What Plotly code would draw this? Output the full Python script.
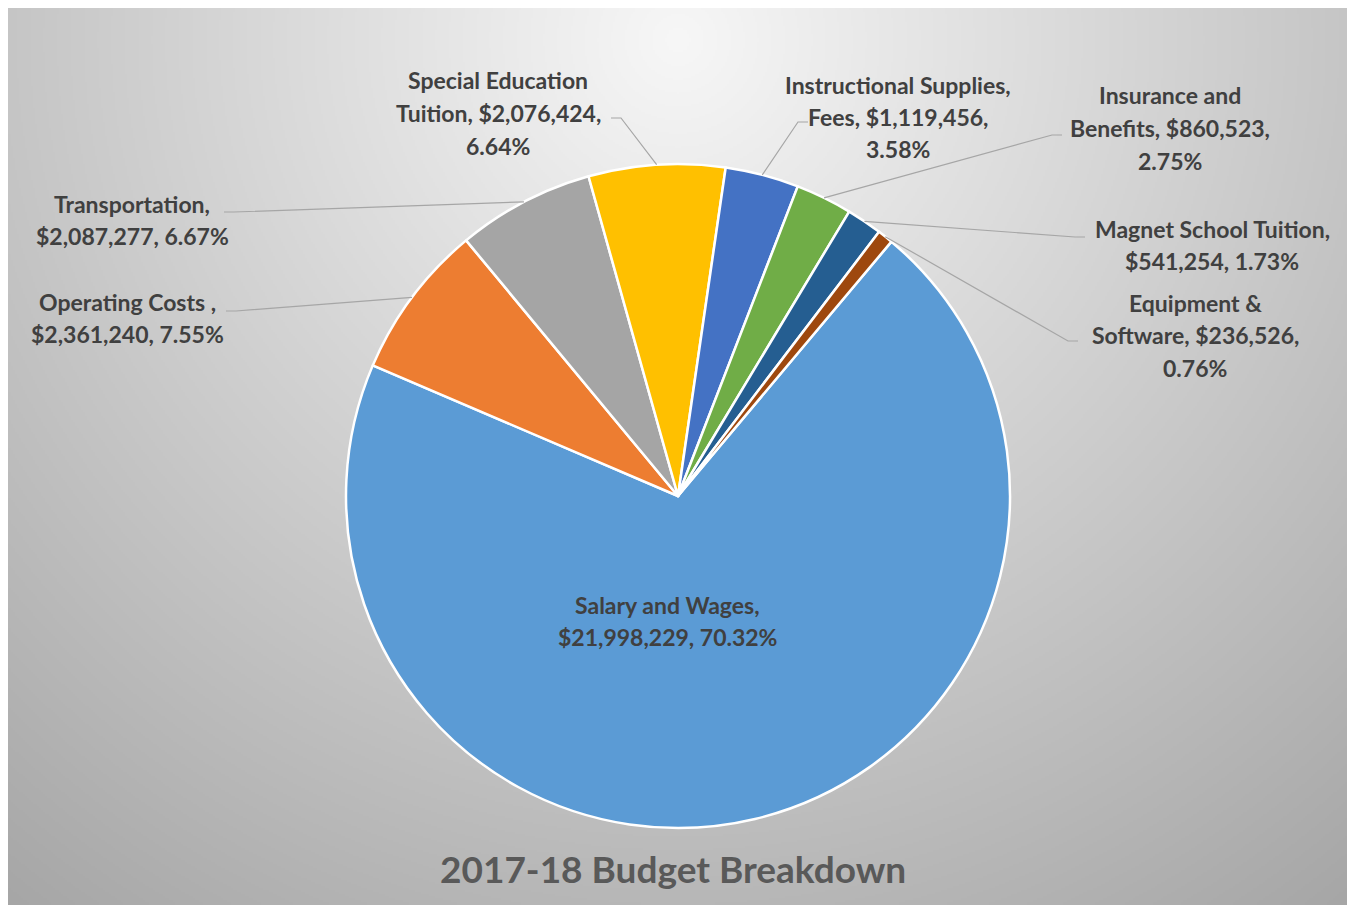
import base64
import math
import struct
import zlib

import numpy as np
import plotly.graph_objects as go

# ---------------- data ----------------
categories = [
    "Salary and Wages",
    "Operating Costs ",
    "Transportation",
    "Special Education Tuition",
    "Instructional Supplies, Fees",
    "Insurance and Benefits",
    "Magnet School Tuition",
    "Equipment & Software",
]
values = [21998229, 2361240, 2087277, 2076424, 1119456, 860523, 541254, 236526]
colors = ["#5B9BD5", "#ED7D31", "#A5A5A5", "#FFC000", "#4472C4", "#70AD47", "#255E91", "#9E480E"]
title_text = "2017-18 Budget Breakdown"

# ---------------- layout constants (pixels, screen coordinates) ----------------
W, H = 1355, 907
OFFX, OFFY = 8, 8                  # page offset of the figure inside the window
CX, CY, R = 678, 496, 332          # pie centre / radius
ROTATION = 40                      # first slice starts 40 deg clockwise from 12 o'clock
LABEL_FONT = dict(family="Lato, 'Open Sans', sans-serif", size=23, color="#404040", weight="bold")
LINE_GAP = 32.5
LEADER_COLOR = "#a6a6a6"

# label layout: (centre x, centre y, wrap style, leader start (x, y, short horizontal dx))
label_layout = [
    (667, 621, "A", None),
    (127, 318, "A", (226, 311, 10)),
    (132, 220, "A", (224, 212, 10)),
    (498, 113, "B", (611, 118, 10)),
    (898, 117, "B", (808, 122, -10)),
    (1170, 128, "B", (1062, 135, -10)),
    (1212, 245, "A", (1085, 237, -10)),
    (1195, 335, "B", (1078, 341, -10)),
]


def px(x):
    return (x - OFFX) / W


def py(y):
    return 1 - (y - OFFY) / H


total = sum(values)


def label_lines(name, val, style):
    pct = f"{val / total * 100:.2f}%"
    money = f"${val:,}"
    if style == "A":
        return [f"{name},", f"{money}, {pct}"]
    words = name.split(" ")
    first = " ".join(words[:2])
    rest = " ".join(words[2:])
    return [first, f"{rest}, {money},", pct]


# ---------------- background gradient image ----------------
def png_gray(arr):
    h, w = arr.shape
    raw = b"".join(b"\x00" + arr[i].tobytes() for i in range(h))

    def chunk(t, d):
        c = struct.pack(">I", len(d)) + t + d
        return c + struct.pack(">I", zlib.crc32(t + d) & 0xFFFFFFFF)

    ihdr = struct.pack(">IIBBBBB", w, h, 8, 0, 0, 0, 0)
    return (b"\x89PNG\r\n\x1a\n" + chunk(b"IHDR", ihdr)
            + chunk(b"IDAT", zlib.compress(raw, 9)) + chunk(b"IEND", b""))


AX0, AY0, AX1, AY1 = 8, 5, 1348, 905
step = 2
xs = np.arange(AX0, AX1, step) + step / 2
ys = np.arange(AY0, AY1, step) + step / 2
XX, YY = np.meshgrid(xs, ys)
d = np.sqrt((XX - 678) ** 2 + (YY - 40) ** 2)
g = np.clip(247 - 0.074 * d, 165, 250).astype(np.uint8)
bg_src = "data:image/png;base64," + base64.b64encode(png_gray(g)).decode()

# ---------------- figure ----------------
fig = go.Figure()
fig.add_trace(go.Pie(
    labels=categories,
    values=values,
    sort=False,
    direction="clockwise",
    rotation=ROTATION,
    marker=dict(colors=colors, line=dict(color="white", width=2.5)),
    textinfo="none",
    hoverinfo="label+value+percent",
    showlegend=False,
    domain=dict(x=[px(CX - R), px(CX + R)], y=[py(CY + R), py(CY - R)]),
))

annotations = []
shapes = []
cum = 0.0
for i, (name, val) in enumerate(zip(categories, values)):
    frac = val / total
    mid = math.radians(ROTATION + 360 * (cum + frac / 2))
    cum += frac
    ex = CX + R * math.sin(mid)
    ey = CY - R * math.cos(mid)
    lx, ly, style, leader = label_layout[i]
    lines = label_lines(name, val, style)
    n = len(lines)
    for k, line in enumerate(lines):
        yk = ly + (k - (n - 1) / 2) * LINE_GAP
        annotations.append(dict(
            x=px(lx), y=py(yk), xref="paper", yref="paper",
            text=line, showarrow=False,
            xanchor="center", yanchor="middle", align="center", font=LABEL_FONT,
        ))
    if leader is not None:
        sx, sy, hdx = leader
        path = (f"M {px(sx)} {py(sy)} L {px(sx + hdx)} {py(sy)} "
                f"L {px(ex)} {py(ey)}")
        shapes.append(dict(type="path", path=path, xref="paper", yref="paper",
                           line=dict(color=LEADER_COLOR, width=1.2)))

annotations.append(dict(
    x=px(673), y=py(868), xref="paper", yref="paper", text=f"<b>{title_text}</b>",
    showarrow=False, xanchor="center", yanchor="middle",
    font=dict(family="Lato, 'Open Sans', sans-serif", size=37, color="#595959"),
))

fig.update_layout(
    width=W, height=H,
    margin=dict(l=0, r=0, t=0, b=0),
    paper_bgcolor="white",
    plot_bgcolor="white",
    annotations=annotations,
    shapes=shapes,
    images=[dict(source=bg_src, xref="paper", yref="paper",
                 x=px(AX0), y=py(AY0), sizex=(AX1 - AX0) / W, sizey=(AY1 - AY0) / H,
                 xanchor="left", yanchor="top", sizing="stretch", layer="below")],
)

fig.write_html("out.html")
